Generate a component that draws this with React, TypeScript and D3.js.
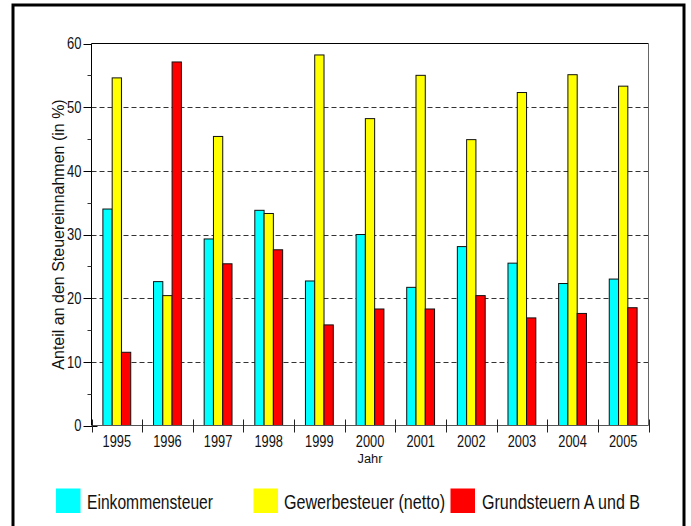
import React from "react";
import * as d3 from "d3";

const years = ["1995","1996","1997","1998","1999","2000","2001","2002","2003","2004","2005"];
const einkommensteuer = [34.0, 22.6, 29.3, 33.8, 22.7, 30.0, 21.7, 28.1, 25.5, 22.3, 23.0];
const gewerbesteuer = [54.6, 20.4, 45.4, 33.3, 58.2, 48.2, 55.0, 44.9, 52.3, 55.1, 53.3];
const grundsteuern = [11.5, 57.1, 25.4, 27.6, 15.8, 18.3, 18.3, 20.4, 16.9, 17.6, 18.5];
const seriesNames = ["Einkommensteuer", "Gewerbesteuer (netto)", "Grundsteuern A und B"];
const seriesColors = ["#00FFFF", "#FFFF00", "#FF0000"];
const yTicks = [0, 10, 20, 30, 40, 50, 60];
const yMinor = [5, 15, 25, 35, 45, 55];
const gridTicks = [10, 20, 30, 40, 50];

const FONT = "Liberation Sans, Arial, Helvetica, sans-serif";

export default function App() {
  const W = 691, H = 526;
  const left = 91.5, right = 648.5, top = 43.5, bottom = 425.5;
  const allSeries = [einkommensteuer, gewerbesteuer, grundsteuern];

  const x = d3.scaleBand<string>().domain(years).range([left, right]).paddingInner(0).paddingOuter(0);
  const slot = x.bandwidth();
  const groupW = slot * 0.55;
  const xs = d3.scaleBand<number>().domain([0, 1, 2]).range([(slot - groupW) / 2, (slot + groupW) / 2]).padding(0);
  const y = d3.scaleLinear().domain([0, 60]).range([bottom, top]);

  const slotEdges = years.map((yr) => x(yr)!).concat([right]);

  const legendItems = [
    { sx: 56, tx: 87, tl: 126 },
    { sx: 253.5, tx: 284, tl: 161 },
    { sx: 450.5, tx: 482, tl: 158 },
  ];

  return (
    <svg width={W} height={H} style={{ position: "absolute", left: 0, top: 0, display: "block" }} xmlns="http://www.w3.org/2000/svg">
      <rect x={0} y={0} width={W} height={H} fill="#fff" />
      {/* outer frame */}
      <rect x={13} y={5} width={671} height={540} fill="none" stroke="#000" strokeWidth={3} />

      {/* gridlines */}
      {gridTicks.map((t) => (
        <line key={"g" + t} x1={left} x2={right} y1={Math.round(y(t)) + 0.5} y2={Math.round(y(t)) + 0.5}
          stroke="#333" strokeWidth={1} strokeDasharray="5,3" />
      ))}

      {/* bars */}
      {years.map((yr, i) => (
        <g key={yr} transform={`translate(${x(yr)},0)`}>
          {allSeries.map((s, k) => (
            <rect key={k} x={xs(k)!} y={y(s[i])} width={xs.bandwidth()} height={bottom - y(s[i])}
              fill={seriesColors[k]} stroke="#111" strokeWidth={1} />
          ))}
        </g>
      ))}

      {/* plot frame */}
      <line x1={left} x2={right} y1={top} y2={top} stroke="#000" strokeWidth={1} />
      <line x1={right} x2={right} y1={top} y2={bottom} stroke="#666" strokeWidth={1} />
      <line x1={left} x2={left} y1={top} y2={bottom} stroke="#000" strokeWidth={1} />
      <line x1={left} x2={right} y1={bottom} y2={bottom} stroke="#555" strokeWidth={1} />

      {/* y ticks */}
      {yTicks.map((t) => (
        <g key={"y" + t}>
          <line x1={left - 8} x2={t === 0 ? left + 6 : left} y1={Math.round(y(t)) + 0.5} y2={Math.round(y(t)) + 0.5} stroke="#000" strokeWidth={1} />
          <text x={81.5} y={y(t) + 5.8} textAnchor="end" fontFamily={FONT} fontSize={16} fill="#111"
            textLength={String(t).length * 7.2} lengthAdjust="spacingAndGlyphs">{t}</text>
        </g>
      ))}
      {yMinor.map((t) => (
        <line key={"m" + t} x1={left - 4} x2={left} y1={Math.round(y(t)) + 0.5} y2={Math.round(y(t)) + 0.5} stroke="#333" strokeWidth={1} />
      ))}

      {/* x ticks */}
      {slotEdges.map((e, i) => (
        <line key={"xt" + i} x1={Math.round(e) + 0.5} x2={Math.round(e) + 0.5} y1={bottom - 6} y2={bottom + 7} stroke="#222" strokeWidth={1} />
      ))}
      {years.map((yr) => (
        <text key={"xl" + yr} x={x(yr)! + slot / 2} y={447} textAnchor="middle" fontFamily={FONT} fontSize={16} fill="#111"
          textLength={28.5} lengthAdjust="spacingAndGlyphs">{yr}</text>
      ))}

      {/* axis titles */}
      <text x={(left + right) / 2} y={463} textAnchor="middle" fontFamily={FONT} fontSize={12} fill="#111"
        textLength={25} lengthAdjust="spacingAndGlyphs">Jahr</text>
      <text transform={`translate(64,${(top + bottom) / 2}) rotate(-90)`} textAnchor="middle"
        fontFamily={FONT} fontSize={16} fill="#111">Anteil an den Steuereinnahmen (in %)</text>

      {/* legend */}
      {legendItems.map((it, k) => (
        <g key={"lg" + k}>
          <rect x={it.sx} y={488.5} width={24.5} height={24.5} fill={seriesColors[k]} />
          <text x={it.tx} y={508.5} fontFamily={FONT} fontSize={20} fill="#111"
            textLength={it.tl} lengthAdjust="spacingAndGlyphs">{seriesNames[k]}</text>
        </g>
      ))}
    </svg>
  );
}
